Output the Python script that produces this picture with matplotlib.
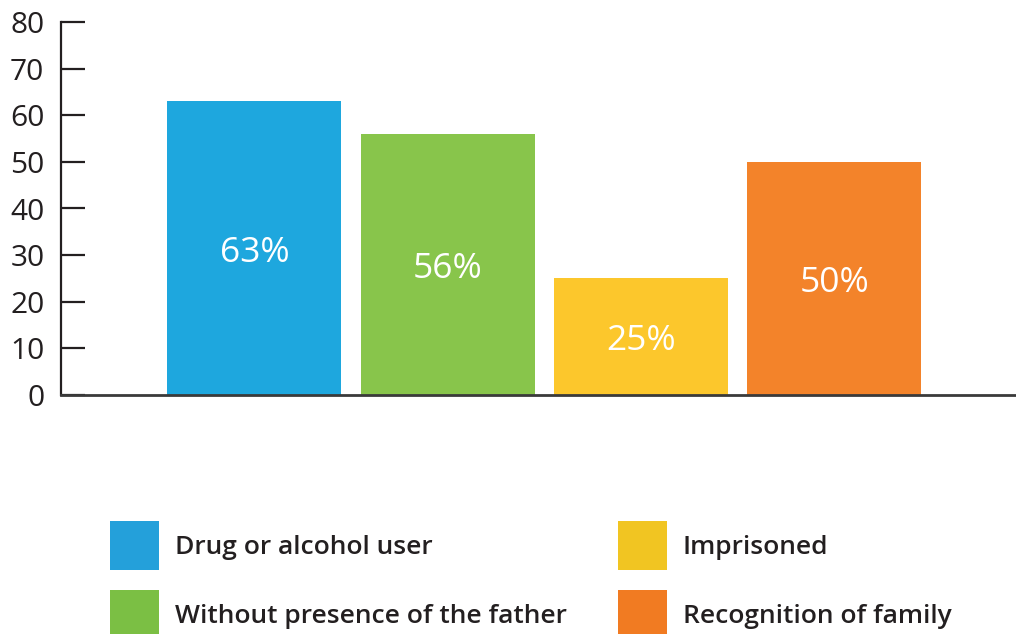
import matplotlib
matplotlib.use("Agg")
import matplotlib.pyplot as plt
from matplotlib.patches import Patch

plt.rcParams['font.family'] = ['Open Sans', 'DejaVu Sans']

categories = ["Drug or alcohol user", "Without presence of the father",
              "Imprisoned", "Recognition of family"]
values = [63, 56, 25, 50]
value_labels = ["63%", "56%", "25%", "50%"]
bar_colors = ["#1EA7DE", "#88C54B", "#FCC72C", "#F3832A"]
legend_colors = ["#24A0DA", "#7BBF44", "#F1C522", "#F17B22"]
yticks = [0, 10, 20, 30, 40, 50, 60, 70, 80]

fig = plt.figure(figsize=(10.16, 6.34), dpi=100)
ax = fig.add_axes([61 / 1016, (634 - 395) / 634, 1 - 61 / 1016, (395 - 22) / 634])

x = list(range(len(values)))
ax.bar(x, values, width=0.9, color=bar_colors, zorder=2)
for xi, v, lab in zip(x, values, value_labels):
    ax.text(xi, v / 2 - 1.0, lab, ha="center", va="center", color="white",
            fontsize=25.5)

ax.set_xlim(-1.0, 3.94)
ax.set_ylim(0, 80)
ax.set_yticks(yticks)
ax.set_xticks([])
for s in ["top", "right"]:
    ax.spines[s].set_visible(False)
ax.spines["left"].set_color("#231F20")
ax.spines["left"].set_linewidth(1.6)
ax.spines["bottom"].set_color("#3a3a3a")
ax.spines["bottom"].set_linewidth(2.0)
ax.tick_params(axis="y", direction="in", length=17.5, width=1.6,
               color="#231F20", labelsize=21.5, pad=12, labelcolor="#231F20")

handles = [Patch(facecolor=c, edgecolor="none") for c in legend_colors]
fig.legend(handles, categories, ncol=2, loc="upper left",
           bbox_to_anchor=(110 / 1016, 1 - 521 / 634), frameon=False,
           borderpad=0, borderaxespad=0,
           handlelength=1.85, handleheight=2.48, handletextpad=0.6,
           labelspacing=0.76, columnspacing=1.95,
           prop={"weight": "semibold", "size": 19}, labelcolor="#231F20")

fig.savefig("out.png", dpi=100)
